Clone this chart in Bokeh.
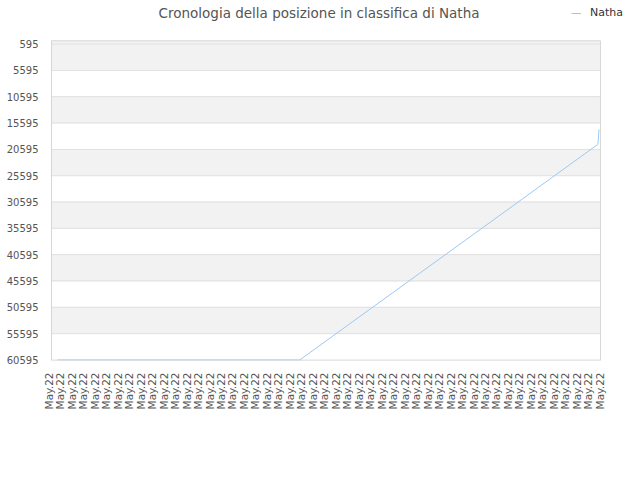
from bokeh.plotting import figure
from bokeh.models import Range1d, FixedTicker, BoxAnnotation, Label, Legend, LegendItem
from bokeh.embed import file_html
from bokeh.resources import INLINE
import math

# ---- data ----
title_text = "Cronologia della posizione in classifica di Natha"
series_name = "Natha"
x_labels = ["May.22"] * 49
y_ticks = [595, 5595, 10595, 15595, 20595, 25595, 30595, 35595,
           40595, 45595, 50595, 55595, 60595]
# vertices of the ranking line (position along the label axis, rank)
x_pos = [0.76, 21.86, 47.82, 47.86, 47.93]
rank = [60595, 60595, 19650, 19080, 16800]

FONT = "DejaVu Sans"
LINE_COLOR = "#9cc8f5"
BAND_COLOR = "#f2f2f2"
GRID_COLOR = "#e2e2e2"
BOX_LEFT, BOX_RIGHT = 0.235, 48.06     # edges of the plotting box (label axis)
BOX_TOP, BOX_BOTTOM = -50, 60690       # edges of the plotting box (rank axis)

# the frame is larger than the plotting box, so title and legend sit inside it
p = figure(width=632, height=472, output_backend="svg", toolbar_location=None,
           x_range=Range1d(-0.113, 50.85), y_range=Range1d(BOX_BOTTOM, -7700),
           title=None)
p.min_border_left = 47
p.min_border_right = 0
p.min_border_top = 0
p.min_border_bottom = 112
p.background_fill_color = "white"
p.border_fill_color = "white"
p.outline_line_color = None
p.xgrid.visible = False
p.ygrid.visible = False

# band above the first tick, then one box per tick interval (grid lines + bands)
p.add_layout(BoxAnnotation(left=BOX_LEFT, right=BOX_RIGHT, top=BOX_TOP,
                           bottom=y_ticks[0], fill_color=BAND_COLOR, fill_alpha=1.0,
                           line_color=None, level="image"))
for i in range(len(y_ticks) - 1):
    p.add_layout(BoxAnnotation(left=BOX_LEFT, right=BOX_RIGHT, top=y_ticks[i],
                               bottom=y_ticks[i + 1],
                               fill_color=BAND_COLOR if i % 2 == 0 else "white",
                               fill_alpha=1.0, line_color=GRID_COLOR, line_alpha=1.0,
                               line_width=1, level="image"))

# outline of the plotting box
p.add_layout(BoxAnnotation(left=BOX_LEFT, right=BOX_RIGHT, top=BOX_TOP,
                           bottom=BOX_BOTTOM, fill_alpha=0, line_color="#d6d6d6",
                           line_alpha=1.0, line_width=1, level="underlay"))

# axes
p.xaxis.ticker = FixedTicker(ticks=list(range(len(x_labels))))
p.xaxis.major_label_overrides = {i: lab for i, lab in enumerate(x_labels)}
p.xaxis.major_label_orientation = math.pi / 2
p.yaxis.ticker = FixedTicker(ticks=y_ticks)
for ax in (p.xaxis[0], p.yaxis[0]):
    ax.axis_line_color = None
    ax.major_tick_line_color = None
    ax.minor_tick_line_color = None
    ax.major_tick_out = 0
    ax.major_tick_in = 0
    ax.major_label_text_font = FONT
    ax.major_label_text_color = "#555555"
p.yaxis.major_label_standoff = 9
p.xaxis.major_label_standoff = 12
p.yaxis.major_label_text_font_size = "10px"
p.xaxis.major_label_text_font_size = "10.5px"

line = p.line(x_pos, rank, line_color=LINE_COLOR, line_width=1)

title = Label(x=271.5, y=348, x_units="screen", y_units="screen", text=title_text,
              text_align="center", text_baseline="middle", text_font=FONT,
              text_font_size="13.5px", text_color="#555555")
p.add_layout(title)

legend = Legend(items=[LegendItem(label=series_name, renderers=[line])],
                location=(524, 341))
legend.padding = 0
legend.margin = 0
legend.border_line_color = None
legend.background_fill_alpha = 0
legend.glyph_width = 10
legend.glyph_height = 12
legend.label_standoff = 9
legend.label_text_font = FONT
legend.label_text_font_size = "11px"
legend.label_text_color = "#333333"
p.add_layout(legend, "center")

open("out.html", "w").write(file_html(p, INLINE))
